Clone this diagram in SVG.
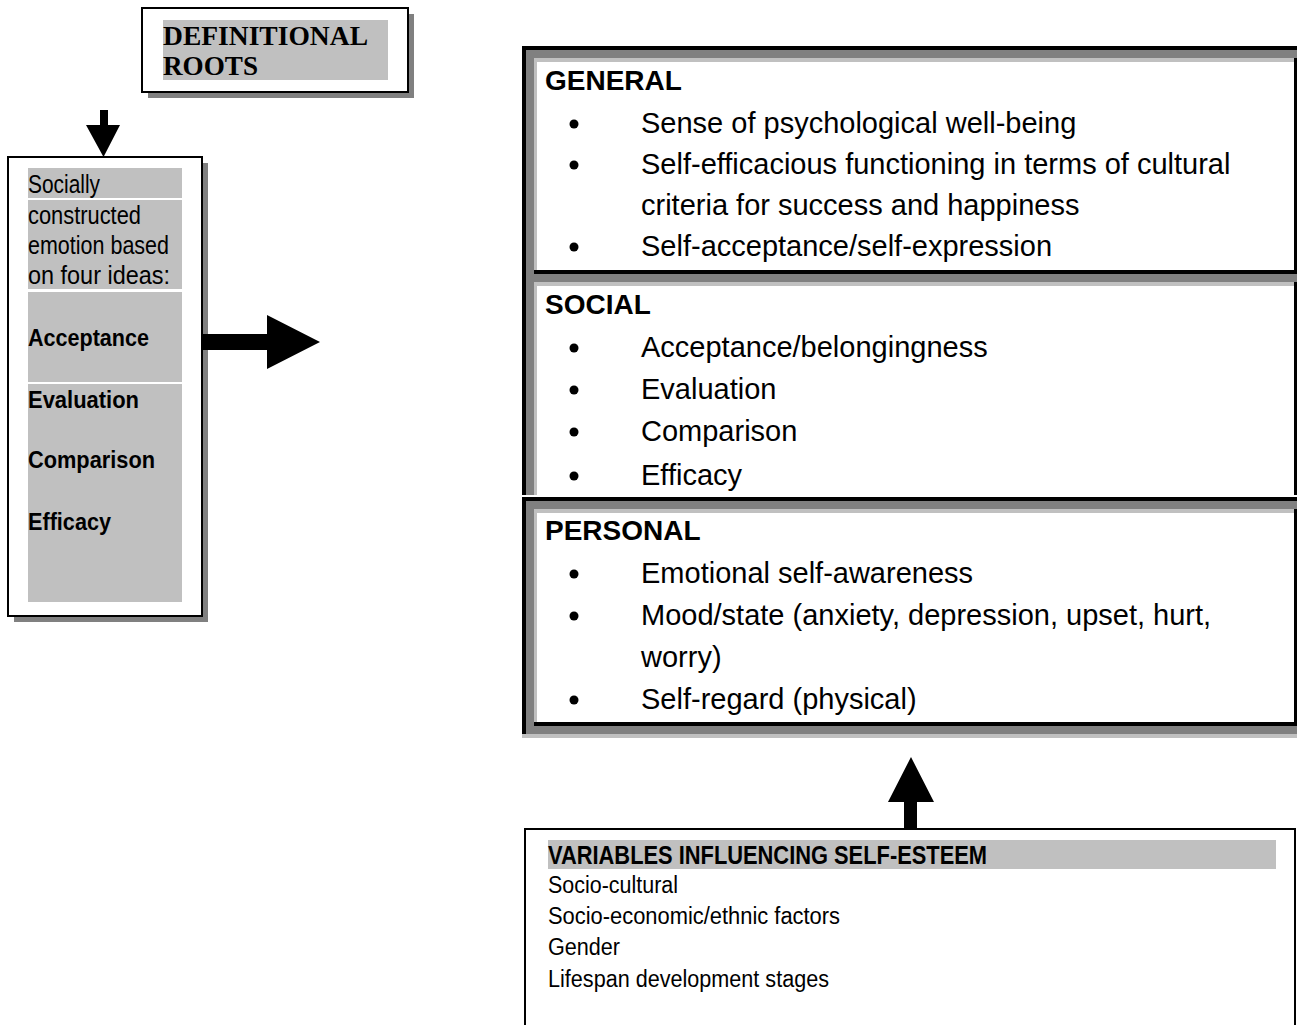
<svg xmlns="http://www.w3.org/2000/svg" width="1297" height="1025" viewBox="0 0 1297 1025">
<style>
.blk{fill:#000}
.g1{fill:#808080}
.g2{fill:#c0c0c0}
.box{fill:#fff;stroke:#000;stroke-width:2}
.sh{fill:#808080}
.ser{font-family:"Liberation Serif","Times New Roman",serif;font-weight:bold;font-size:27px;fill:#000}
.nar{font-family:"Liberation Sans Narrow","Liberation Sans",Arial,sans-serif;font-size:25px;fill:#000}
.narb{font-family:"Liberation Sans Narrow","Liberation Sans",Arial,sans-serif;font-size:24px;font-weight:bold;fill:#000}
.hd{font-family:"Liberation Sans",Arial,sans-serif;font-size:28px;font-weight:bold;fill:#000}
.bd{font-family:"Liberation Sans",Arial,sans-serif;font-size:29px;fill:#000}
.vn{font-family:"Liberation Sans Narrow","Liberation Sans",Arial,sans-serif;font-size:23.5px;fill:#000}
.vnb{font-family:"Liberation Sans Narrow","Liberation Sans",Arial,sans-serif;font-size:25px;font-weight:bold;fill:#000}
</style>
<rect width="1297" height="1025" fill="#fff"/>

<g id="definitional-roots">
  <rect class="sh" x="148" y="14" width="266" height="84"/>
  <rect class="box" x="142" y="8" width="266" height="84"/>
  <rect class="g2" x="163" y="20" width="225" height="60"/>
  <text class="ser" x="163" y="45" textLength="205" lengthAdjust="spacingAndGlyphs">DEFINITIONAL</text>
  <text class="ser" x="163" y="75" textLength="95" lengthAdjust="spacingAndGlyphs">ROOTS</text>
</g>

<g id="socially-constructed">
  <rect class="sh" x="14" y="163" width="194" height="459"/>
  <rect class="box" x="8" y="157" width="194" height="459"/>
  <rect class="g2" x="28" y="168" width="154" height="30"/>
  <rect class="g2" x="28" y="200" width="154" height="89"/>
  <rect class="g2" x="28" y="292" width="154" height="90"/>
  <rect class="g2" x="28" y="384" width="154" height="218"/>
  <text class="nar" x="28" y="193" textLength="72" lengthAdjust="spacingAndGlyphs">Socially</text>
  <text class="nar" x="28" y="224" textLength="113" lengthAdjust="spacingAndGlyphs">constructed</text>
  <text class="nar" x="28" y="254" textLength="141" lengthAdjust="spacingAndGlyphs">emotion based</text>
  <text class="nar" x="28" y="284" textLength="142" lengthAdjust="spacingAndGlyphs">on four ideas:</text>
  <text class="narb" x="28" y="346" textLength="121" lengthAdjust="spacingAndGlyphs">Acceptance</text>
  <text class="narb" x="28" y="408" textLength="111" lengthAdjust="spacingAndGlyphs">Evaluation</text>
  <text class="narb" x="28" y="468" textLength="127" lengthAdjust="spacingAndGlyphs">Comparison</text>
  <text class="narb" x="28" y="530" textLength="83" lengthAdjust="spacingAndGlyphs">Efficacy</text>
</g>

<g id="self-esteem-domains">
  <rect class="blk" x="522" y="46" width="775" height="4"/>
  <rect class="blk" x="522" y="46" width="4" height="449"/>
  <rect class="g1" x="526" y="50" width="771" height="8"/>
  <rect class="g1" x="526" y="50" width="8" height="445"/>
  <g id="general">
    <rect class="g2" x="534" y="58" width="760" height="4"/>
    <rect class="g2" x="534" y="58" width="3" height="212"/>
    <rect class="blk" x="1294" y="58" width="3" height="216"/>
    <rect class="blk" x="534" y="270" width="763" height="4"/>
    <text class="hd" x="545" y="90">GENERAL</text>
    <circle cx="574" cy="124" r="4.5"/>
    <circle cx="574" cy="165" r="4.5"/>
    <circle cx="574" cy="247" r="4.5"/>
    <text class="bd" x="641" y="133">Sense of psychological well-being</text>
    <text class="bd" x="641" y="174">Self-efficacious functioning in terms of cultural</text>
    <text class="bd" x="641" y="215">criteria for success and happiness</text>
    <text class="bd" x="641" y="256">Self-acceptance/self-expression</text>
  </g>
  <rect class="g1" x="526" y="274" width="771" height="8"/>
  <g id="social">
    <rect class="g2" x="534" y="282" width="760" height="4"/>
    <rect class="g2" x="534" y="282" width="3" height="213"/>
    <rect class="blk" x="1294" y="282" width="3" height="213"/>
    <text class="hd" x="545" y="314">SOCIAL</text>
    <circle cx="574" cy="348" r="4.5"/>
    <circle cx="574" cy="390" r="4.5"/>
    <circle cx="574" cy="432" r="4.5"/>
    <circle cx="574" cy="476" r="4.5"/>
    <text class="bd" x="641" y="357">Acceptance/belongingness</text>
    <text class="bd" x="641" y="399">Evaluation</text>
    <text class="bd" x="641" y="441">Comparison</text>
    <text class="bd" x="641" y="485">Efficacy</text>
  </g>
  <rect class="blk" x="522" y="497" width="775" height="4"/>
  <rect class="blk" x="522" y="497" width="4" height="237"/>
  <rect class="g1" x="526" y="501" width="771" height="8"/>
  <rect class="g1" x="526" y="501" width="8" height="233"/>
  <g id="personal">
    <rect class="g2" x="534" y="509" width="760" height="4"/>
    <rect class="g2" x="534" y="509" width="3" height="213"/>
    <rect class="blk" x="1294" y="509" width="3" height="217"/>
    <rect class="blk" x="534" y="722" width="763" height="4"/>
    <text class="hd" x="545" y="540">PERSONAL</text>
    <circle cx="574" cy="574" r="4.5"/>
    <circle cx="574" cy="616" r="4.5"/>
    <circle cx="574" cy="700" r="4.5"/>
    <text class="bd" x="641" y="583">Emotional self-awareness</text>
    <text class="bd" x="641" y="625">Mood/state (anxiety, depression, upset, hurt,</text>
    <text class="bd" x="641" y="667">worry)</text>
    <text class="bd" x="641" y="709">Self-regard (physical)</text>
  </g>
  <rect class="g1" x="526" y="726" width="771" height="8"/>
  <rect class="g2" x="522" y="734" width="775" height="4"/>
</g>

<g id="variables">
  <rect class="box" x="525" y="829" width="770" height="210"/>
  <rect class="g2" x="548" y="840" width="728" height="29"/>
  <text class="vnb" x="548" y="864" textLength="439" lengthAdjust="spacingAndGlyphs">VARIABLES INFLUENCING SELF-ESTEEM</text>
  <text class="vn" x="548" y="893" textLength="130" lengthAdjust="spacingAndGlyphs">Socio-cultural</text>
  <text class="vn" x="548" y="924" textLength="292" lengthAdjust="spacingAndGlyphs">Socio-economic/ethnic factors</text>
  <text class="vn" x="548" y="955" textLength="72" lengthAdjust="spacingAndGlyphs">Gender</text>
  <text class="vn" x="548" y="987" textLength="281" lengthAdjust="spacingAndGlyphs">Lifespan development stages</text>
</g>

<g id="connectors">
  <polygon class="blk" points="100,110 108,110 108,125 120,125 103.5,157 86,125 100,125"/>
  <polygon class="blk" points="201,334 267,334 267,315 320,342 267,369 267,350 201,350"/>
  <polygon class="blk" points="904,829 904,802 888,802 911,757 934,802 917,802 917,829"/>
</g>
</svg>
